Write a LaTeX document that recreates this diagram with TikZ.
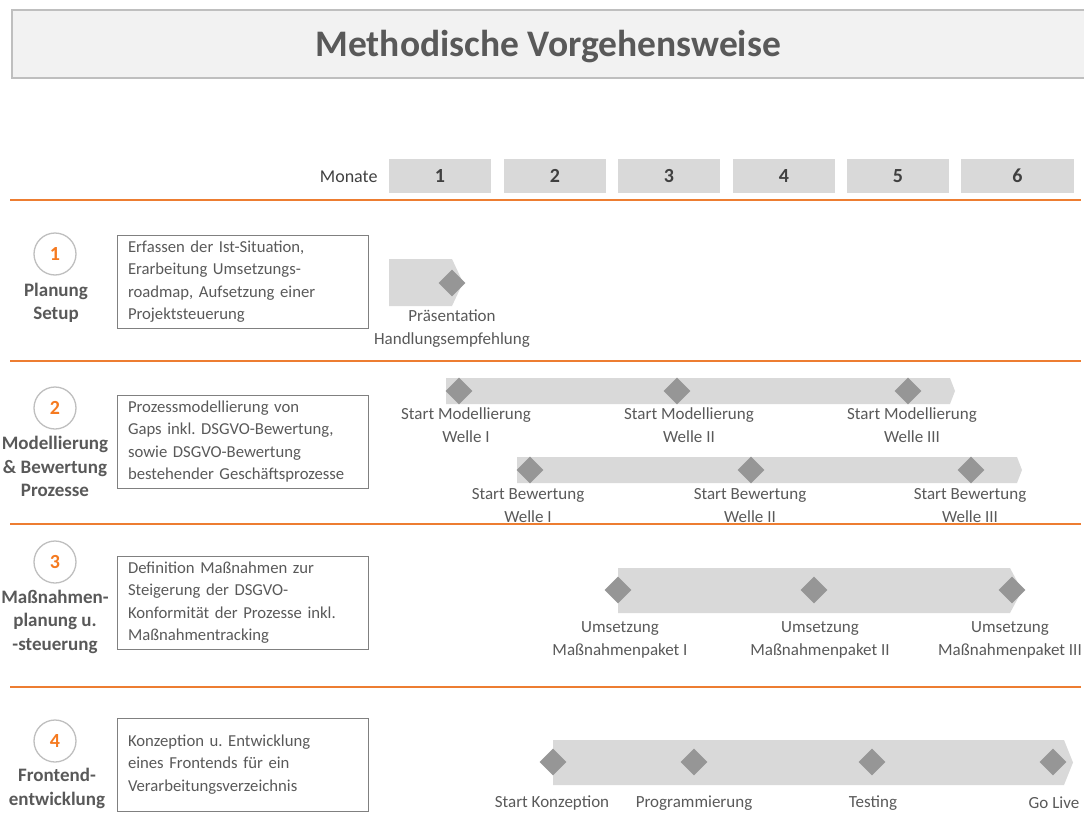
\documentclass[tikz,border=0pt]{standalone}
\usepackage{fontspec}
\setmainfont{Carlito}
\frenchspacing
\usetikzlibrary{shapes.geometric}
\definecolor{lineorange}{RGB}{237,125,49}
\definecolor{numorange}{RGB}{245,122,32}
\definecolor{txtgray}{RGB}{89,89,89}
\definecolor{bargray}{RGB}{217,217,217}
\definecolor{dmdgray}{RGB}{150,150,150}
\definecolor{framegray}{RGB}{191,191,191}
\definecolor{titlefill}{RGB}{242,242,242}

\begin{document}
\begin{tikzpicture}[x=1pt,y=-1pt,
  sepline/.style={draw=lineorange,line width=1.6},
  monthbox/.style={fill=bargray,minimum height=34,inner sep=0,font=\fontsize{20}{24}\selectfont\bfseries,text=black!75},
  stepnum/.style={circle,draw=framegray,line width=1.3,fill=white,minimum size=42,inner sep=0,font=\fontsize{20}{24}\selectfont\bfseries,text=numorange},
  phase/.style={align=center,font=\fontsize{19}{23.5}\selectfont\bfseries,text=txtgray},
  descbox/.style={draw=black!50,line width=1,minimum width=251,minimum height=93,text width=229,inner xsep=11,inner ysep=0,align=left,font=\fontsize{16.7}{22.3}\selectfont,text=txtgray},
  bar/.style={fill=bargray},
  milestone/.style={diamond,fill=dmdgray,minimum size=27,inner sep=0},
  mlabel/.style={align=center,font=\fontsize{17}{23}\selectfont,text=txtgray}]
\useasboundingbox (0,0) rectangle (1084,835);

% title and months
\node[draw=framegray,line width=1.5,fill=titlefill,minimum width=1073,minimum height=68,anchor=north west,text depth=0pt,
  font=\fontsize{37.5}{44}\selectfont\bfseries,text=txtgray] (title) at (11,9) {Methodische Vorgehensweise};
\node[font=\fontsize{18}{22}\selectfont,text=black!75,anchor=east] (monate) at (381,177) {Monate};
\foreach \m/\cx/\w in {1/440/102,2/555/102,3/669/102,4/784/102,5/898/102,6/1017.5/113}
  \node[monthbox,minimum width=\w] (m\m) at (\cx,176) {\m};
\foreach \yy in {200,361,524,687}
  \draw[sepline] (10,\yy) -- (1081,\yy);

% 1
\node[stepnum] (s1) at (55,254) {1};
\node[phase] (p1) at (56,303) {Planung\\Setup};
\node[descbox] (d1) at (242.5,281.5) {Erfassen der Ist-Situation,\\Erarbeitung Umsetzungs-\\roadmap, Aufsetzung einer\\Projektsteuerung};
\fill[bar] (389,259) -- (452,259) -- (463,282.5) -- (452,306) -- (389,306) -- cycle;
\node[milestone] (pres) at (452,283) {};
\node[mlabel] (presl) at (452,328.5) {Präsentation\\Handlungsempfehlung};

% 2
\node[stepnum] (s2) at (55,408) {2};
\node[phase] (p2) at (55,466.5) {Modellierung\\\& Bewertung\\Prozesse};
\node[descbox] (d2) at (242.5,441.5) {Prozessmodellierung von\\Gaps inkl. DSGVO-Bewertung,\\sowie DSGVO-Bewertung\\bestehender Geschäftsprozesse};
\fill[bar] (446,378) -- (950,378) -- (955,391) -- (950,404) -- (446,404) -- cycle;
\foreach \x/\lx/\w [count=\i] in {459/466/I,677/689/II,908/912/III}{
  \node[milestone] (mod\i) at (\x,391) {};
  \node[mlabel] (modl\i) at (\lx,425.5) {Start Modellierung\\Welle \w};
}
\fill[bar] (517,457) -- (1017,457) -- (1022,470) -- (1017,483) -- (517,483) -- cycle;
\foreach \x/\lx/\w [count=\i] in {530/528/I,751/750/II,971/970/III}{
  \node[milestone] (bew\i) at (\x,470) {};
  \node[mlabel] (bewl\i) at (\lx,505.5) {Start Bewertung\\Welle \w};
}

% 3
\node[stepnum] (s3) at (55,562) {3};
\node[phase] (p3) at (55,621.5) {Maßnahmen-\\planung u.\\-steuerung};
\node[descbox] (d3) at (242.5,602.5) {Definition Maßnahmen zur\\Steigerung der DSGVO-\\Konformität der Prozesse inkl.\\Maßnahmentracking};
\fill[bar] (618,568) -- (1010,568) -- (1022,590.5) -- (1010,613) -- (618,613) -- cycle;
\foreach \x/\lx/\w [count=\i] in {618/620/I,814/820/II,1012/1010/III}{
  \node[milestone] (ums\i) at (\x,590) {};
  \node[mlabel] (umsl\i) at (\lx,639.5) {Umsetzung\\Maßnahmenpaket \w};
}

% 4
\node[stepnum] (s4) at (55,741) {4};
\node[phase] (p4) at (57,788.5) {Frontend-\\entwicklung};
\node[descbox] (d4) at (242.5,764.5) {Konzeption u. Entwicklung\\eines Frontends für ein\\Verarbeitungsverzeichnis};
\fill[bar] (553,740) -- (1064,740) -- (1073,762.5) -- (1064,785) -- (553,785) -- cycle;
\foreach \x/\lx/\t [count=\i] in {553/552/Start Konzeption,694/694/Programmierung,872/873/Testing,1053/1054/Go Live}{
  \node[milestone] (fe\i) at (\x,762) {};
  \node[mlabel] (fel\i) at (\lx,803) {\t};
}
\end{tikzpicture}
\end{document}
